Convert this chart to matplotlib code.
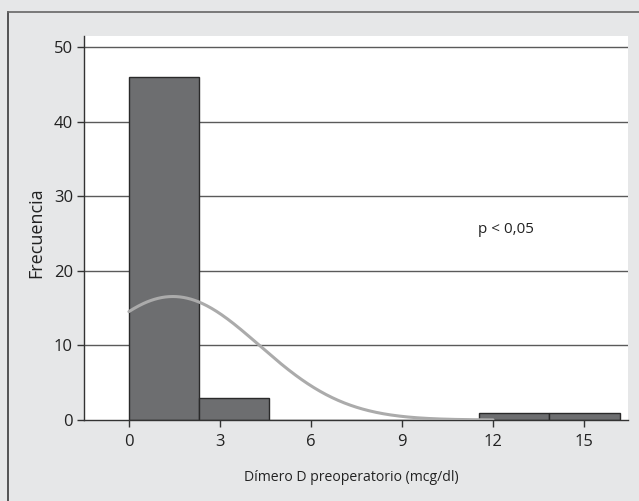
import numpy as np
import matplotlib
matplotlib.use("Agg")
import matplotlib.pyplot as plt
from matplotlib.lines import Line2D

plt.rcParams['font.family'] = ['Open Sans', 'DejaVu Sans']

bin_width = 2.31
bin_starts = [0.0, 2.31, 4.62, 6.93, 9.24, 11.55, 13.86]
counts = [46, 3, 0, 0, 0, 1, 1]
curve_mean = 1.45
curve_sd = 2.84
n_total = 51
xticks = [0, 3, 6, 9, 12, 15]
yticks = [0, 10, 20, 30, 40, 50]

bg = '#e6e7e8'
fig = plt.figure(figsize=(6.39, 5.01), dpi=100, facecolor=bg)
ax = fig.add_axes([84/639, 1-420/501, (628-84)/639, (420-35.7)/501])
ax.set_facecolor('white')

ax.set_xlim(-1.48, 16.45)
ax.set_ylim(0, 51.5)

for y in yticks[1:]:
    ax.axhline(y, color='#5a5a5a', lw=1.0, zorder=1)

ax.bar(bin_starts, counts, width=bin_width, align='edge', color='#6d6e70',
       edgecolor='#2a2a2a', linewidth=1.0, zorder=2)

xs = np.linspace(0, 12, 300)
ys = n_total * bin_width / (curve_sd * np.sqrt(2*np.pi)) * np.exp(-0.5*((xs-curve_mean)/curve_sd)**2)
ax.plot(xs, ys, color='#ababab', lw=2.2, zorder=3, solid_capstyle='round')

for s in ['top', 'right']:
    ax.spines[s].set_visible(False)
for s in ['left', 'bottom']:
    ax.spines[s].set_color('#333333')
    ax.spines[s].set_linewidth(1.0)

ax.set_xticks(xticks)
ax.set_yticks(yticks)
ax.tick_params(axis='both', direction='out', length=5, width=1, color='#333333',
               labelsize=12, labelcolor='#222222', pad=3)
ax.tick_params(axis='x', pad=5)

ax.set_xlabel('Dímero D preoperatorio (mcg/dl)', fontsize=10.1, color='#222222')
ax.xaxis.set_label_coords(0.491, -0.13)
ax.set_ylabel('Frecuencia', fontsize=13, color='#222222')
ax.yaxis.set_label_coords(-0.071, 0.487)

ax.text(11.5, 25.5, 'p < 0,05', fontsize=11, color='#222222', ha='left', va='center')

# outer frame (top and left)
fig.add_artist(Line2D([8/639, 8/639], [0, 1-12/501], transform=fig.transFigure, color='#3a3a3a', lw=1.2))
fig.add_artist(Line2D([8/639, 1], [1-12/501, 1-12/501], transform=fig.transFigure, color='#666666', lw=1.2))

fig.savefig('out.png', dpi=100, facecolor=bg)
